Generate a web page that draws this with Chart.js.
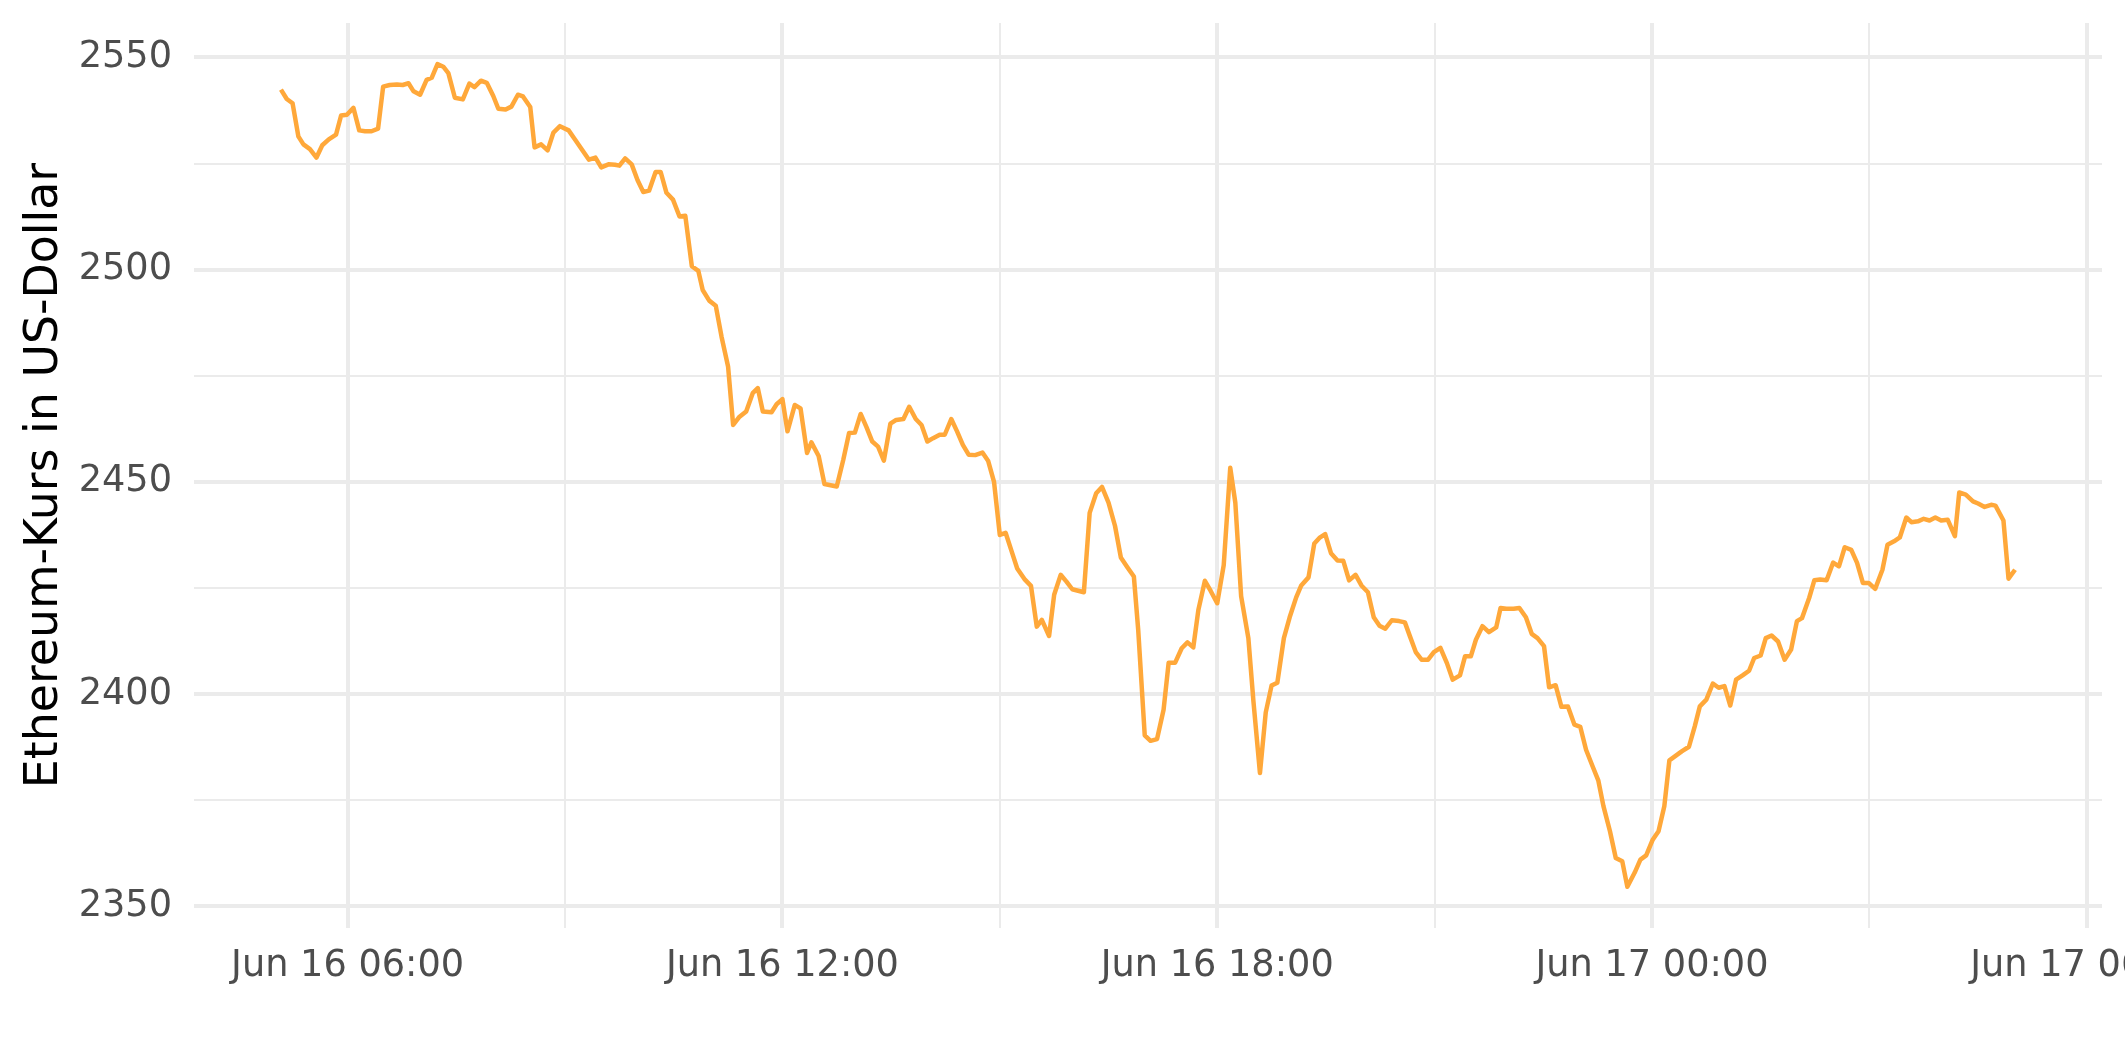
<!DOCTYPE html>
<html>
<head>
<meta charset="utf-8">
<script src="https://cdn.jsdelivr.net/npm/chart.js@4.4.1/dist/chart.umd.min.js"></script>
<style>
  html, body { margin: 0; padding: 0; background: #ffffff; }
  #wrap { width: 2125px; height: 1062px; position: relative; }
</style>
</head>
<body>
<div id="wrap"><canvas id="ethChart"></canvas></div>
<script>
// hours since Jun 16 00:00 (5-minute samples)
const hours = [
  5.08, 5.16, 5.24, 5.32, 5.39, 5.48, 5.57, 5.65, 5.74, 5.84, 5.91, 5.99, 6.08, 6.16, 6.24, 6.33, 6.42, 6.49, 6.58, 6.68,
  6.76, 6.84, 6.91, 7.00, 7.09, 7.16, 7.24, 7.32, 7.39, 7.48, 7.59, 7.68, 7.75, 7.84, 7.92, 8.01, 8.08, 8.18, 8.26, 8.35,
  8.42, 8.52, 8.58, 8.67, 8.76, 8.84, 8.93, 9.05, 9.14, 9.24, 9.33, 9.42, 9.50, 9.60, 9.69, 9.75, 9.83,
  9.92, 10.00, 10.08, 10.16, 10.25, 10.32, 10.40, 10.49, 10.58, 10.66, 10.75, 10.84, 10.90, 10.99, 11.08, 11.16, 11.25,
  11.32, 11.40, 11.50, 11.59, 11.66, 11.73, 11.85, 11.92, 12.00, 12.07, 12.17, 12.25, 12.34, 12.40, 12.50, 12.58, 12.75,
  12.84, 12.92, 13.00, 13.08, 13.16, 13.24, 13.32, 13.40, 13.49, 13.57, 13.67, 13.75, 13.84, 13.92, 14.00, 14.08, 14.17,
  14.24, 14.33, 14.41, 14.49, 14.57,
  14.66, 14.76, 14.84, 14.92, 15.00, 15.08, 15.16, 15.24, 15.34, 15.43, 15.51, 15.58, 15.68, 15.75, 15.84, 15.92, 16.00,
  16.16, 16.24, 16.33, 16.41, 16.50, 16.59, 16.67, 16.76, 16.85, 16.91, 17.00, 17.08, 17.17, 17.26, 17.33, 17.42, 17.51,
  17.59, 17.67, 17.74, 17.83, 17.91, 18.00, 18.09, 18.18, 18.25, 18.33, 18.43, 18.50, 18.59, 18.67, 18.75, 18.83, 18.92,
  19.00, 19.09, 19.16, 19.26, 19.34,
  19.41, 19.49, 19.57, 19.66, 19.74, 19.82, 19.91, 19.99, 20.08, 20.16, 20.24, 20.32, 20.41, 20.51, 20.59, 20.66, 20.74,
  20.82, 20.91, 20.99, 21.08, 21.17, 21.25, 21.35, 21.42, 21.50, 21.57, 21.66, 21.75, 21.85, 21.91, 21.99, 22.09, 22.17,
  22.26, 22.34, 22.42, 22.51, 22.58, 22.67, 22.75, 22.84, 22.93, 23.01, 23.09, 23.18, 23.26, 23.33, 23.42, 23.50, 23.59,
  23.66, 23.76, 23.84, 23.92, 24.01, 24.09,
  24.17, 24.24, 24.33, 24.41, 24.51, 24.59, 24.66, 24.75, 24.84, 24.92, 25.00, 25.08, 25.16, 25.25, 25.34, 25.41, 25.50,
  25.57, 25.65, 25.74, 25.83, 25.92, 26.00, 26.07, 26.17, 26.24, 26.32, 26.41, 26.50, 26.58, 26.66, 26.75, 26.83, 26.91,
  26.99, 27.08, 27.18, 27.25, 27.34, 27.42, 27.51, 27.58, 27.67, 27.75, 27.83, 27.91, 27.99, 28.08, 28.18, 28.24, 28.33,
  28.43, 28.50, 28.59, 28.68, 28.74, 28.85, 28.92, 29.01
];

// Ethereum price in USD
const prices = [
  2542.4, 2540.2, 2539.2, 2531.4, 2529.5, 2528.4, 2526.4, 2529.3, 2530.7, 2531.8, 2536.3, 2536.5, 2538.1, 2532.8, 2532.6, 2532.6, 2533.2, 2543.1, 2543.5, 2543.6,
  2543.5, 2543.9, 2542.0, 2541.2, 2544.7, 2545.2, 2548.4, 2547.8, 2546.3, 2540.5, 2540.1, 2543.8, 2543.0, 2544.5, 2544.0, 2540.9, 2537.9, 2537.7, 2538.4, 2541.2,
  2540.8, 2538.3, 2528.8, 2529.5, 2528.1, 2532.3, 2533.8, 2532.8, 2530.6, 2528.1, 2525.9, 2526.4, 2524.1, 2524.8, 2524.7, 2524.5, 2526.2,
  2524.8, 2521.1, 2518.3, 2518.6, 2523.0, 2523.0, 2518.1, 2516.5, 2512.5, 2512.7, 2500.8, 2499.7, 2495.2, 2492.7, 2491.5, 2484.2, 2477.2,
  2463.4, 2465.2, 2466.6, 2470.9, 2472.1, 2466.6, 2466.4, 2468.3, 2469.5, 2461.9, 2468.1, 2467.3, 2456.8, 2459.3, 2456.1, 2449.5, 2448.9,
  2455.2, 2461.5, 2461.6, 2466.0, 2462.9, 2459.5, 2458.3, 2455.0, 2463.7, 2464.6, 2464.8, 2467.7, 2464.8, 2463.4, 2459.5, 2460.3, 2461.1,
  2461.1, 2464.8, 2461.9, 2458.7, 2456.4,
  2456.3, 2456.9, 2454.9, 2450.0, 2437.5, 2438.0, 2433.8, 2429.6, 2427.1, 2425.5, 2415.9, 2417.5, 2413.7, 2423.4, 2428.1, 2426.5, 2424.7,
  2424.0, 2442.7, 2447.3, 2448.8, 2445.1, 2439.6, 2432.2, 2429.9, 2427.7, 2415.1, 2390.3, 2389.0, 2389.4, 2396.3, 2407.4, 2407.4, 2410.8,
  2412.2, 2411.0, 2419.8, 2426.7, 2424.3, 2421.4, 2430.4, 2453.3, 2445.1, 2423.1, 2413.2, 2398.3, 2381.4, 2395.7, 2402.0, 2402.7, 2413.2,
  2418.1, 2422.8, 2425.6, 2427.5, 2435.5,
  2436.8, 2437.7, 2433.2, 2431.5, 2431.4, 2426.8, 2428.1, 2425.6, 2424.0, 2418.1, 2416.1, 2415.4, 2417.4, 2417.2, 2416.9, 2413.6, 2409.9,
  2408.1, 2408.1, 2409.9, 2410.9, 2407.3, 2403.4, 2404.4, 2408.9, 2408.9, 2412.8, 2416.0, 2414.6, 2415.7, 2420.3, 2420.1, 2420.1, 2420.3,
  2418.1, 2414.2, 2413.2, 2411.3, 2401.6, 2402.1, 2397.0, 2397.1, 2392.8, 2392.3, 2386.9, 2383.0, 2379.6, 2373.6, 2367.7, 2361.4, 2360.6,
  2354.6, 2357.9, 2361.0, 2362.0, 2365.7, 2367.7,
  2373.6, 2384.4, 2385.5, 2386.5, 2387.6, 2392.4, 2397.1, 2398.7, 2402.5, 2401.5, 2401.9, 2397.3, 2403.4, 2404.4, 2405.5, 2408.5, 2409.1,
  2413.2, 2413.8, 2412.4, 2408.1, 2410.5, 2417.2, 2417.9, 2422.7, 2426.8, 2427.0, 2426.8, 2431.0, 2430.1, 2434.6, 2434.0, 2430.9, 2426.2,
  2426.2, 2424.8, 2429.3, 2435.2, 2436.0, 2436.9, 2441.6, 2440.5, 2440.7, 2441.3, 2440.9, 2441.6, 2440.9, 2441.1, 2437.2, 2447.5, 2447.0,
  2445.4, 2444.9, 2444.1, 2444.6, 2444.4, 2440.9, 2427.2, 2429.3
];

// axis ticks (gridlines every 3h / 25 USD, labels every 6h / 50 USD)
const xTicks = [6, 9, 12, 15, 18, 21, 24, 27, 30];
const xLabels = { 6: "Jun 16 06:00", 12: "Jun 16 12:00", 18: "Jun 16 18:00", 24: "Jun 17 00:00", 30: "Jun 17 06:00" };
const yTicks = [2350, 2375, 2400, 2425, 2450, 2475, 2500, 2525, 2550];

const points = hours.map((h, i) => ({ x: h, y: prices[i] }));

const tickFont = { family: "'DejaVu Sans'", size: 36.7 };
const gridColor = "#EBEBEB";

const ctx = document.getElementById("ethChart").getContext("2d");
const myChart = new Chart(ctx, {
  type: "line",
  data: {
    datasets: [
      {
        data: points,
        borderColor: "#FFA83A",
        borderWidth: 4.5,
        borderJoinStyle: "round",
        pointRadius: 0,
        tension: 0,
        fill: false,
      },
    ],
  },
  options: {
    responsive: true,
    maintainAspectRatio: false,
    animation: false,
    devicePixelRatio: 1,
    layout: { padding: { left: 0, right: 23, top: 23, bottom: 0 } },
    plugins: {
      legend: false,
      tooltip: { enabled: false },
    },
    scales: {
      x: {
        type: "linear",
        min: 3.88,
        max: 30.21,
        afterBuildTicks: (axis) => {
          axis.ticks = xTicks.map((v) => ({ value: v }));
        },
        afterFit: (axis) => {
          axis.height = 134;
          axis.paddingLeft = 0;
          axis.paddingRight = 0;
        },
        border: { display: false },
        grid: {
          color: gridColor,
          drawTicks: false,
          lineWidth: (c) => (c.tick && c.tick.value % 6 === 0 ? 4 : 2),
        },
        ticks: {
          autoSkip: false,
          maxRotation: 0,
          padding: 16,
          color: "#4D4D4D",
          font: tickFont,
          callback: (value) => xLabels[value] || "",
        },
      },
      y: {
        type: "linear",
        min: 2344.9,
        max: 2558.1,
        afterBuildTicks: (axis) => {
          axis.ticks = yTicks.map((v) => ({ value: v }));
        },
        afterFit: (axis) => {
          axis.width = 194;
          axis.paddingTop = 0;
          axis.paddingBottom = 0;
        },
        border: { display: false },
        grid: {
          color: gridColor,
          drawTicks: false,
          lineWidth: (c) => (c.tick && c.tick.value % 50 === 0 ? 4 : 2),
        },
        ticks: {
          padding: 22,
          color: "#4D4D4D",
          font: tickFont,
          callback: (value) => (value % 50 === 0 ? String(value) : ""),
        },
        title: {
          display: true,
          text: "Ethereum-Kurs in US-Dollar",
          color: "#000000",
          font: { family: "'DejaVu Sans'", size: 45.8, lineHeight: 1.2 },
          padding: { top: 18, bottom: 0 },
        },
      },
    },
  },
});
</script>
</body>
</html>
